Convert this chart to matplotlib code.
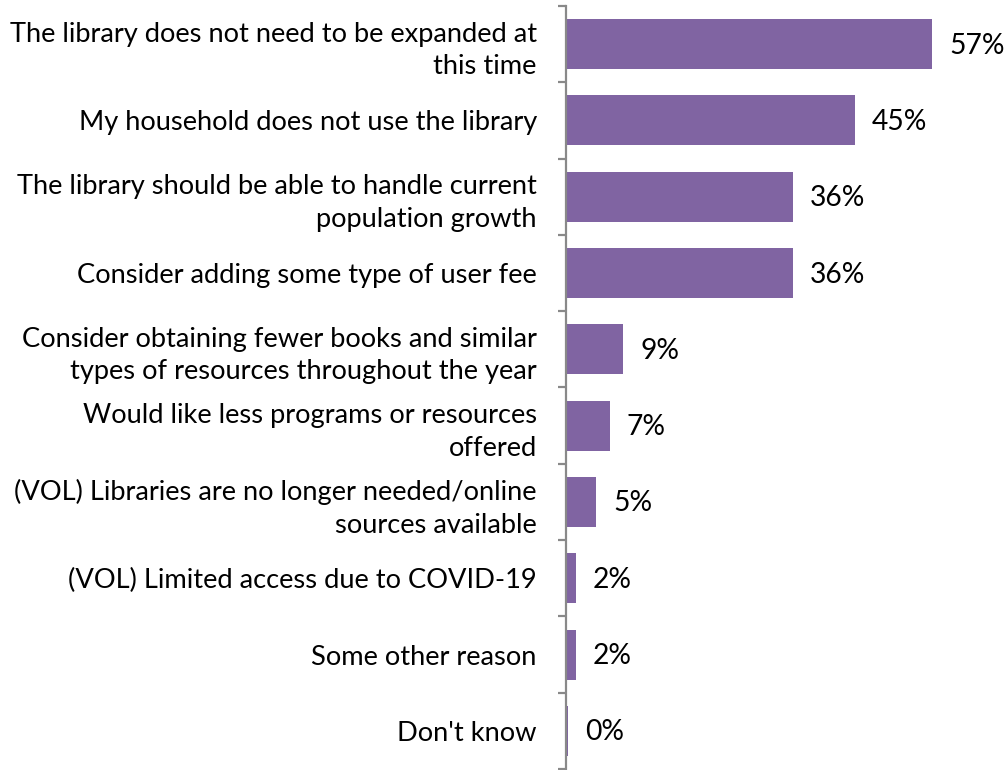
import matplotlib
matplotlib.use("Agg")
import matplotlib.pyplot as plt
import numpy as np

categories = [
    "The library does not need to be expanded at\nthis time",
    "My household does not use the library",
    "The library should be able to handle current\npopulation growth",
    "Consider adding some type of user fee",
    "Consider obtaining fewer books and similar\ntypes of resources throughout the year",
    "Would like less programs or resources\noffered",
    "(VOL) Libraries are no longer needed/online\nsources available",
    "(VOL) Limited access due to COVID-19",
    "Some other reason",
    "Don't know",
]
values = [56.9, 44.9, 35.3, 35.2, 8.9, 6.8, 4.7, 1.5, 1.5, 0.3]
labels = ["57%", "45%", "36%", "36%", "9%", "7%", "5%", "2%", "2%", "0%"]

plt.rcParams['font.family'] = ['Lato', 'DejaVu Sans']

W, H = 1007, 770
fig = plt.figure(figsize=(W / 100, H / 100), dpi=100)
ax = fig.add_axes([566 / W, 1 / H, (1000 - 566) / W, (769 - 6) / H])

y = np.arange(len(categories))
ax.barh(y, values, height=0.655, color="#8064A2")
ax.set_xlim(0, 67.4)
ax.set_ylim(len(categories) - 0.5, -0.5)

for yi, v, lab in zip(y, values, labels):
    ax.text(v + 2.6, yi + 0.02, lab, va="center", ha="left", fontsize=20.3, color="black")

ax.set_yticks(y)
ax.set_yticklabels(categories, fontsize=19.6, linespacing=1.38)
ax.tick_params(axis="y", which="major", length=0, pad=21)
ax.set_yticks(np.arange(-0.5, len(categories), 1.0), minor=True)
ax.tick_params(axis="y", which="minor", length=6, width=1.6, color="#898989", direction="out")
ax.set_xticks([])

for s in ["top", "right", "bottom"]:
    ax.spines[s].set_visible(False)
ax.spines["left"].set_color("#898989")
ax.spines["left"].set_linewidth(1.6)

fig.savefig("out.png", dpi=100)
